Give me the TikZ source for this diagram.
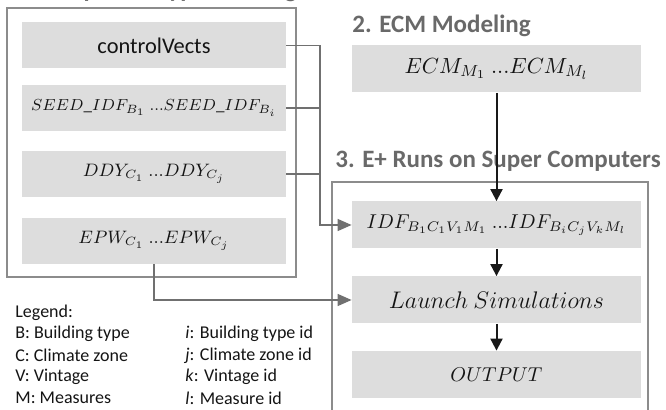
\documentclass[tikz,border=0pt]{standalone}
\usepackage[no-math]{fontspec}
\setmainfont{Carlito}
\usepackage{amsmath}
\usepackage{xcolor}
\usetikzlibrary{arrows.meta}

\definecolor{boxgray}{RGB}{221,221,221}
\definecolor{framegray}{RGB}{140,140,140}
\definecolor{linegray}{RGB}{112,112,112}
\definecolor{titlegray}{RGB}{105,105,105}
\definecolor{textdark}{RGB}{20,20,20}

\newcommand{\tdots}{\ {.}{.}{.}}

\tikzset{
  inbox/.style={fill=boxgray, text=textdark, inner sep=0pt, minimum width=132pt, minimum height=23pt},
  widebox/.style={inbox, minimum width=144.5pt, minimum height=23.5pt},
  frame/.style={draw=framegray, line width=0.55pt},
  title/.style={anchor=base west, inner sep=0pt, text=titlegray, font=\fontsize{12.5}{15}\selectfont\bfseries},
  legend/.style={anchor=west, inner sep=0pt, text=textdark, font=\fontsize{9}{11}\selectfont},
  gline/.style={draw=linegray, line width=0.7pt},
  garrow/.style={gline, -{Triangle[length=7pt, width=6pt]}},
  barrow/.style={draw=black!90, line width=1pt, -{Triangle[length=6pt, width=6pt]}}
}

\begin{document}
\begin{tikzpicture}[x=0.5pt, y=-0.5pt]
  \useasboundingbox (0,0) rectangle (666,410);

  % frames
  \draw[frame] (7,8) rectangle (296,277);
  \draw[frame] (332,430) -- (332,182) -- (648,182) -- (648,430);

  % titles
  \node[title] (t1) at (10,-2) {1. Setup Prototype Buildings};
  \node[title] (t2) at (352,33) {2. ECM Modeling};
  \node[title] (t3) at (335,168) {3. E+ Runs on Super Computers};

  % inputs
  \node[inbox, font=\fontsize{11.2}{13}\selectfont] (ctrl) at (154,45.5) {controlVects};
  \node[inbox, font=\fontsize{8.5}{11}\selectfont] (seed) at (154,108) {$SEED\_IDF_{B_1}\tdots SEED\_IDF_{B_i}$};
  \node[inbox, font=\fontsize{8.6}{11}\selectfont] (ddy) at (154,174) {$DDY_{C_1}\tdots DDY_{C_j}$};
  \node[inbox, font=\fontsize{9.2}{11}\selectfont] (epw) at (154,241) {$EPW_{C_1}\tdots EPW_{C_j}$};

  % ecm and runs
  \node[widebox, font=\fontsize{11.2}{13}\selectfont] (ecm) at (496.5,69) {$ECM_{M_1}\tdots ECM_{M_l}$};
  \node[widebox, font=\fontsize{9.6}{12}\selectfont] (idf) at (496.5,225) {$IDF_{B_1C_1V_1M_1}\tdots IDF_{B_iC_jV_kM_l}$};
  \node[widebox, font=\fontsize{11.5}{13}\selectfont] (launch) at (496.5,300) {$Launch\ Simulations$};
  \node[widebox, font=\fontsize{9.8}{12}\selectfont] (output) at (496.5,374.5) {$OUTPUT$};

  % legend
  \node[legend] (leg) at (15,313) {Legend:};
  \node[legend] (lb) at (15,334) {B: Building type};
  \node[legend] (lc) at (15,355.5) {C: Climate zone};
  \node[legend] (lv) at (15,377) {V: Vintage};
  \node[legend] (lm) at (15,398) {M: Measures};
  \node[legend] (li) at (185,334) {\textit{i}: Building type id};
  \node[legend] (lj) at (185,355.5) {\textit{j}: Climate zone id};
  \node[legend] (lk) at (185,377) {\textit{k}: Vintage id};
  \node[legend] (ll) at (185,398) {\textit{l}: Measure id};

  % connectors
  \coordinate (bus) at (320,0);
  \draw[garrow] (ctrl.east) -- (ctrl.east -| bus) |- (idf.west);
  \draw[gline] (seed.east) -- (seed.east -| bus);
  \draw[gline] (ddy.east) -- (ddy.east -| bus);
  \draw[garrow] (epw.south) |- (launch.west);
  \draw[barrow] (ecm.south) -- (idf.north);
  \draw[barrow] (idf.south) -- (launch.north);
  \draw[barrow] (launch.south) -- (output.north);
\end{tikzpicture}
\end{document}
